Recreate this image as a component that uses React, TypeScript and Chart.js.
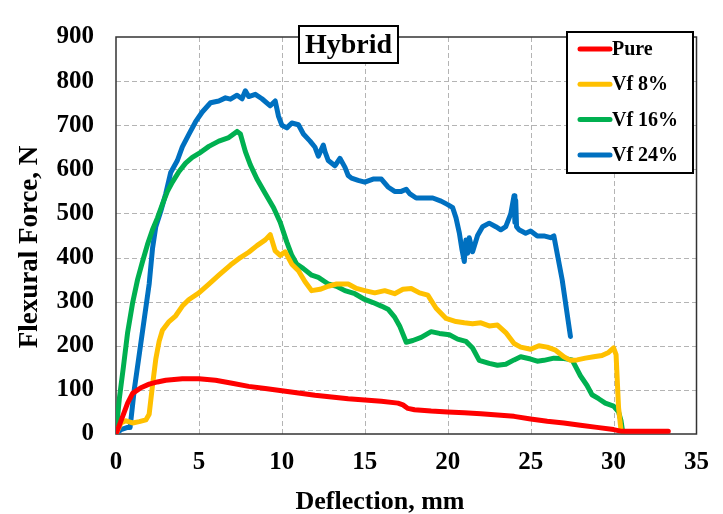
import React, { useEffect, useRef } from 'react';
import { Chart, registerables } from 'chart.js';

Chart.register(...registerables);

// ---------------- data ----------------
const seriesNames = ['Pure', 'Vf 8%', 'Vf 16%', 'Vf 24%'];
const seriesColors = ['#FF0000', '#FFC000', '#00B050', '#0070C0'];

const pureX = [0, 0.3, 0.7, 1.0, 1.5, 2.0, 2.5, 3.0, 4.0, 5.0, 6.0, 7.0, 8.0, 9.0, 10.0, 11.0, 12.0, 13.0, 14.0, 15.0, 16.0, 17.0, 17.3, 17.6, 18.0, 19.0, 20.0, 21.0, 22.0, 23.0, 24.0, 25.0, 26.0, 27.0, 28.0, 29.0, 30.0, 30.5, 31.0, 32.0, 33.3];
const pureY = [0, 30, 70, 92, 105, 113, 118, 122, 125, 125, 122, 115, 108, 103, 98, 93, 88, 84, 80, 77, 74, 70, 66, 58, 55, 52, 50, 48, 46, 43, 40, 34, 29, 25, 20, 15, 10, 6, 6, 6, 6];

const vf8X = [0, 0.3, 0.6, 1.0, 1.4, 1.8, 2.0, 2.2, 2.4, 2.6, 2.8, 3.2, 3.6, 4.0, 4.4, 5.0, 5.6, 6.2, 6.9, 7.5, 8.0, 8.5, 9.0, 9.3, 9.6, 9.9, 10.2, 10.6, 11.0, 11.4, 11.8, 12.3, 12.8, 13.3, 14.0, 14.5, 15.0, 15.6, 16.2, 16.8, 17.3, 17.8, 18.3, 18.8, 19.3, 19.9, 20.5, 21.0, 21.5, 22.0, 22.5, 23.0, 23.5, 24.0, 24.4, 25.0, 25.5, 26.0, 26.5, 27.0, 27.4, 27.8, 28.3, 28.8, 29.3, 29.7, 30.0, 30.15, 30.3, 30.45];
const vf8Y = [0, 25, 30, 25, 28, 32, 45, 110, 170, 210, 235, 255, 268, 290, 305, 320, 340, 360, 383, 400, 412, 427, 440, 452, 415, 405, 413, 385, 370, 345, 325, 328, 335, 340, 340, 330, 325, 320, 325, 318, 328, 330, 320, 315, 285, 262, 255, 252, 250, 252, 245, 247, 230, 205, 197, 192, 200, 197, 190, 175, 167, 168, 172, 175, 178, 185, 195, 180, 60, 8];

const vf16X = [0, 0.2, 0.45, 0.7, 1.0, 1.3, 1.6, 1.9, 2.2, 2.5, 2.8, 3.1, 3.4, 3.8, 4.2, 4.6, 5.0, 5.6, 6.2, 6.8, 7.3, 7.5, 7.8, 8.1, 8.5, 9.0, 9.5, 9.9, 10.3, 10.6, 10.9, 11.3, 11.8, 12.2, 12.8, 13.3, 13.8, 14.4, 15.0, 15.5, 16.0, 16.4, 16.8, 17.1, 17.5, 17.9, 18.4, 19.0, 19.5, 20.1, 20.6, 21.1, 21.5, 21.9, 22.5, 23.0, 23.5, 24.0, 24.4, 25.0, 25.4, 25.8, 26.4, 27.0, 27.5, 28.0, 28.4, 28.7, 29.1, 29.5, 30.0, 30.3, 30.45, 30.55];
const vf16Y = [0, 80, 153, 230, 297, 350, 391, 430, 463, 490, 521, 550, 571, 595, 614, 627, 636, 652, 664, 672, 686, 680, 640, 610, 578, 545, 513, 480, 435, 405, 385, 375, 360, 355, 340, 335, 325, 318, 305, 298, 290, 283, 265, 245, 208, 212, 219, 232, 228, 225, 215, 210, 195, 167, 160, 156, 158, 168, 175, 170, 165, 167, 172, 171, 168, 132, 110, 89, 80, 70, 63, 50, 30, 5];

const vf24X = [0, 0.3, 0.7, 0.85, 1.1, 1.43, 1.7, 2.0, 2.2, 2.4, 2.7, 3.0, 3.3, 3.7, 4.0, 4.4, 4.8, 5.2, 5.7, 6.2, 6.6, 6.9, 7.3, 7.6, 7.8, 8.0, 8.4, 8.8, 9.3, 9.6, 9.8, 10.0, 10.3, 10.6, 11.0, 11.3, 11.7, 12.0, 12.2, 12.5, 12.6, 12.8, 13.2, 13.5, 13.8, 14.0, 14.2, 14.6, 15.0, 15.5, 16.0, 16.4, 16.8, 17.2, 17.5, 17.7, 18.1, 18.6, 19.1, 19.6, 20.0, 20.3, 20.5, 20.7, 20.85, 21.0, 21.1, 21.2, 21.3, 21.5, 21.8, 22.1, 22.5, 22.9, 23.2, 23.5, 23.8, 24.0, 24.05, 24.1, 24.15, 24.3, 24.7, 25.0, 25.4, 25.8, 26.2, 26.4, 26.9, 27.4];
const vf24Y = [0, 10, 15, 15, 100, 188, 260, 340, 420, 470, 505, 545, 593, 620, 651, 680, 708, 730, 751, 755, 762, 759, 768, 760, 778, 765, 770, 760, 744, 755, 720, 700, 694, 705, 701, 680, 664, 650, 630, 655, 640, 620, 608, 625, 605, 586, 580, 575, 571, 578, 578, 560, 550, 550, 555, 545, 535, 535, 535, 528, 520, 513, 490, 456, 420, 391, 440, 410, 445, 413, 450, 470, 478, 470, 463, 470, 499, 540, 480, 530, 470, 463, 455, 460, 449, 449, 445, 449, 350, 221];

const seriesX = [pureX, vf8X, vf16X, vf24X];
const seriesY = [pureY, vf8Y, vf16Y, vf24Y];

const xMin = 0, xMax = 35, xStep = 5;
const yMin = 0, yMax = 900, yStep = 100;

const chartTitle = 'Hybrid';
const xTitle = 'Deflection, mm';
const yTitle = 'Flexural Force, N';

const FONT = '"Liberation Serif", "Times New Roman", Times, serif';
const GRID_DASH = [5, 3];

const overlayPlugin = {
  id: 'overlay',
  beforeDatasetsDraw(chart: any) {
    const { ctx, chartArea } = chart;
    const { left, top, right, bottom } = chartArea;
    ctx.save();
    // dashed grid lines from the library's scales
    ctx.strokeStyle = '#b4b4b4';
    ctx.lineWidth = 1;
    ctx.setLineDash(GRID_DASH);
    const xs = chart.scales.x;
    const ys = chart.scales.y;
    xs.ticks.forEach((t: any) => {
      if (t.value <= xMin || t.value >= xMax) return;
      const px = Math.round(xs.getPixelForValue(t.value)) + 0.5;
      ctx.beginPath();
      ctx.moveTo(px, top);
      ctx.lineTo(px, bottom);
      ctx.stroke();
    });
    ys.ticks.forEach((t: any) => {
      if (t.value <= yMin || t.value >= yMax) return;
      const py = Math.round(ys.getPixelForValue(t.value)) + 0.5;
      ctx.beginPath();
      ctx.moveTo(left, py);
      ctx.lineTo(right, py);
      ctx.stroke();
    });
    ctx.setLineDash([]);
    ctx.strokeStyle = '#333';
    ctx.lineWidth = 1.5;
    ctx.strokeRect(left, top, right - left, bottom - top);
    ctx.restore();
  },
  afterDraw(chart: any) {
    const { ctx } = chart;
    ctx.save();
    // axis titles
    ctx.fillStyle = '#000';
    ctx.font = `bold 26px ${FONT}`;
    ctx.textAlign = 'center';
    ctx.textBaseline = 'alphabetic';
    ctx.fillText(xTitle, 380, 509);
    ctx.save();
    ctx.translate(37, 247);
    ctx.rotate(-Math.PI / 2);
    ctx.font = `bold 27px ${FONT}`;
    ctx.fillText(yTitle, 0, 0);
    ctx.restore();

    // title box
    const bx = 299, by = 26, bw = 99, bh = 37;
    ctx.fillStyle = '#fff';
    ctx.fillRect(bx, by, bw, bh);
    ctx.lineWidth = 2;
    ctx.strokeStyle = '#000';
    ctx.strokeRect(bx, by, bw, bh);
    ctx.fillStyle = '#000';
    ctx.font = `bold 28px ${FONT}`;
    ctx.textAlign = 'center';
    ctx.textBaseline = 'middle';
    ctx.fillText(chartTitle, bx + bw / 2, by + bh / 2 + 1);

    // legend box
    const lx = 567, ly = 32, lw = 126, lh = 141;
    ctx.fillStyle = '#fff';
    ctx.fillRect(lx, ly, lw, lh);
    ctx.lineWidth = 2;
    ctx.strokeStyle = '#000';
    ctx.strokeRect(lx, ly, lw, lh);
    ctx.font = `bold 20px ${FONT}`;
    ctx.textAlign = 'left';
    ctx.textBaseline = 'middle';
    chart.data.datasets.forEach((ds: any, i: number) => {
      const y = 49 + i * 35.3;
      ctx.strokeStyle = ds.borderColor;
      ctx.lineWidth = 5;
      ctx.lineCap = 'round';
      ctx.beginPath();
      ctx.moveTo(580, y);
      ctx.lineTo(610, y);
      ctx.stroke();
      ctx.fillStyle = '#000';
      ctx.fillText(ds.label, 612, y + 1);
    });
    ctx.restore();
  },
};

export default function App() {
  const canvasRef = useRef<HTMLCanvasElement | null>(null);

  useEffect(() => {
    const canvas = canvasRef.current;
    if (!canvas) return;
    const datasets = seriesNames.map((name, i) => ({
      label: name,
      data: seriesX[i].map((x, j) => ({ x, y: seriesY[i][j] })),
      borderColor: seriesColors[i],
      backgroundColor: seriesColors[i],
      borderWidth: 5,
      pointRadius: 0,
      tension: 0,
      fill: false,
      borderJoinStyle: 'round' as const,
      borderCapStyle: 'round' as const,
    }));
    const tickFont = { family: FONT, size: 25, weight: 'bold' as const };
    const chart = new Chart(canvas, {
      type: 'line',
      data: { datasets },
      options: {
        animation: false,
        responsive: false,
        maintainAspectRatio: false,
        layout: { padding: { top: 18, right: 13, left: 0, bottom: 0 } },
        plugins: { legend: { display: false }, tooltip: { enabled: false }, title: { display: false } },
        scales: {
          x: {
            type: 'linear',
            min: xMin,
            max: xMax,
            ticks: { stepSize: xStep, font: tickFont, color: '#000', padding: 14, maxRotation: 0 },
            grid: { display: false, drawTicks: false },
            border: { display: false },
            afterFit: (scale: any) => { scale.height = 80; },
          },
          y: {
            type: 'linear',
            min: yMin,
            max: yMax,
            ticks: { stepSize: yStep, font: tickFont, color: '#000', padding: 22 },
            grid: { display: false, drawTicks: false },
            border: { display: false },
            afterFit: (scale: any) => { scale.width = 116; },
          },
        },
      },
      plugins: [overlayPlugin],
    });
    return () => chart.destroy();
  }, []);

  return (
    <div style={{ position: 'absolute', left: 0, top: 0, width: 723, height: 514, background: '#fff' }}>
      <canvas ref={canvasRef} width={723} height={514} style={{ display: 'block' }} />
    </div>
  );
}
